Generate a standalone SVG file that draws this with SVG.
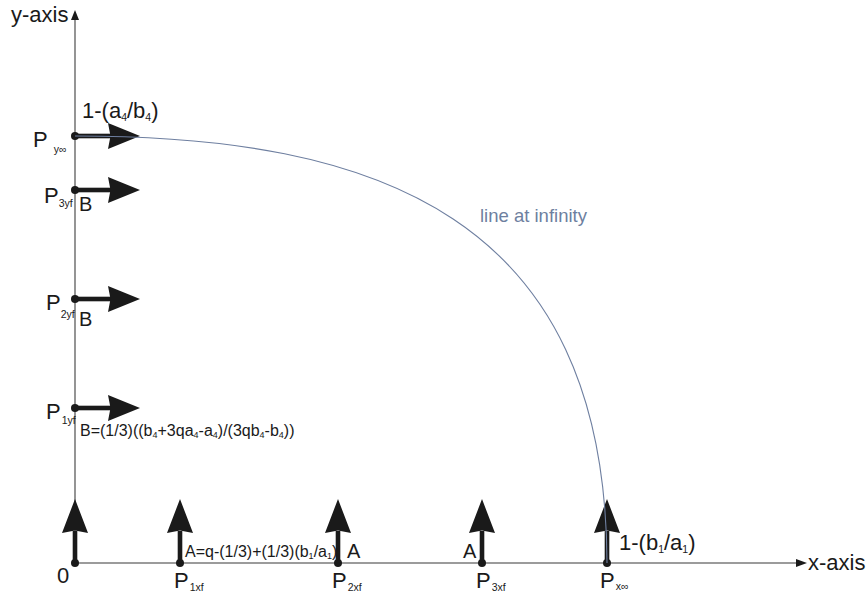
<svg xmlns="http://www.w3.org/2000/svg" xmlns:xlink="http://www.w3.org/1999/xlink" width="867" height="597" viewBox="0 0 867 597">
<style>
  text { font-family: "Liberation Sans", Arial, sans-serif; fill: #1a1a1a; }
  .big { font-size: 22px; }
  .lbl { font-size: 20px; }
  .sub { font-size: 10.5px; }
  .mid { font-size: 16px; }
  .msub { font-size: 9px; }
  .axis { stroke: #7a7a7a; stroke-width: 1.6; fill: none; }
  .ink { fill: #1a1a1a; }
  .inf { stroke: #6e7fa0; stroke-width: 1.1; fill: none; }
  .inflabel { fill: #6e7fa0; font-size: 18.5px; }
</style>
<defs>
  <g id="arrUp" class="ink">
    <rect x="-2.3" y="-32" width="4.6" height="32"/>
    <polygon points="0,-64 13,-30 0,-32.5 -13,-30"/>
    <circle cx="0" cy="0" r="4"/>
  </g>
  <g id="arrRight" class="ink">
    <rect x="0" y="-2.3" width="36" height="4.6"/>
    <polygon points="65,0 33,-13 35.5,0 33,13"/>
    <circle cx="0" cy="0" r="4"/>
  </g>
</defs>

<g id="axes">
  <line class="axis" x1="75" y1="563" x2="75" y2="18"/>
  <polygon class="ink" points="75,10 79,20 71,20"/>
  <line class="axis" x1="75" y1="563" x2="798" y2="563"/>
  <polygon class="ink" points="807,563 796,559 796,567"/>
  <text class="big" x="11" y="22">y-axis</text>
  <text class="big" x="808" y="570">x-axis</text>
</g>

<g id="origin">
  <use xlink:href="#arrUp" x="75" y="563"/>
  <text class="big" x="57" y="583">0</text>
</g>

<g id="P1xf">
  <use xlink:href="#arrUp" x="180" y="563"/>
  <text class="big" x="174" y="588">P<tspan class="sub" dx="1" dy="3">1xf</tspan></text>
  <text class="mid" x="185" y="557">A=q-(1/3)+(1/3)(b<tspan class="msub" dy="2">1</tspan><tspan dy="-2">/a</tspan><tspan class="msub" dy="2">1</tspan><tspan dy="-2">)</tspan></text>
</g>

<g id="P2xf">
  <use xlink:href="#arrUp" x="338" y="563"/>
  <text class="big" x="332" y="588">P<tspan class="sub" dx="1" dy="3">2xf</tspan></text>
  <text class="lbl" x="347" y="558">A</text>
</g>

<g id="P3xf">
  <use xlink:href="#arrUp" x="482" y="563"/>
  <text class="big" x="476" y="588">P<tspan class="sub" dx="1" dy="3">3xf</tspan></text>
  <text class="lbl" x="463" y="558">A</text>
</g>

<g id="Pxinf">
  <use xlink:href="#arrUp" x="607" y="563"/>
  <text class="big" x="600" y="588">P<tspan class="sub" dx="1" dy="2">x∞</tspan></text>
  <text class="big" x="619" y="550">1-(b<tspan class="sub" dy="3">1</tspan><tspan dy="-3">/a</tspan><tspan class="sub" dy="3">1</tspan><tspan dy="-3">)</tspan></text>
</g>

<g id="P1yf">
  <use xlink:href="#arrRight" x="75" y="408"/>
  <text class="big" x="46" y="419">P<tspan class="sub" dx="1" dy="5">1yf</tspan></text>
  <text class="mid" x="80" y="436">B=(1/3)((b<tspan class="msub" dy="2">4</tspan><tspan dy="-2">+3qa</tspan><tspan class="msub" dy="2">4</tspan><tspan dy="-2">-a</tspan><tspan class="msub" dy="2">4</tspan><tspan dy="-2">)/(3qb</tspan><tspan class="msub" dy="2">4</tspan><tspan dy="-2">-b</tspan><tspan class="msub" dy="2">4</tspan><tspan dy="-2">))</tspan></text>
</g>

<g id="P2yf">
  <use xlink:href="#arrRight" x="75" y="299"/>
  <text class="big" x="46" y="310">P<tspan class="sub" dx="0" dy="8">2yf</tspan></text>
  <text class="lbl" x="79" y="326">B</text>
</g>

<g id="P3yf">
  <use xlink:href="#arrRight" x="75" y="190"/>
  <text class="big" x="44" y="203">P<tspan class="sub" dx="0" dy="4">3yf</tspan></text>
  <text class="lbl" x="79" y="211">B</text>
</g>

<g id="Pyinf">
  <use xlink:href="#arrRight" x="75" y="136"/>
  <text class="big" x="33" y="147">P<tspan class="sub" dx="6" dy="6">y∞</tspan></text>
  <text class="big" x="82" y="118">1-(a<tspan class="sub" dy="3">4</tspan><tspan dy="-3">/b</tspan><tspan class="sub" dy="3">4</tspan><tspan dy="-3">)</tspan></text>
</g>

<g id="connectors">
  <path class="inf" d="M75,136 C375,136 606,215 607,563"/>
  <text class="inflabel" x="480" y="222">line at infinity</text>
</g>
</svg>
